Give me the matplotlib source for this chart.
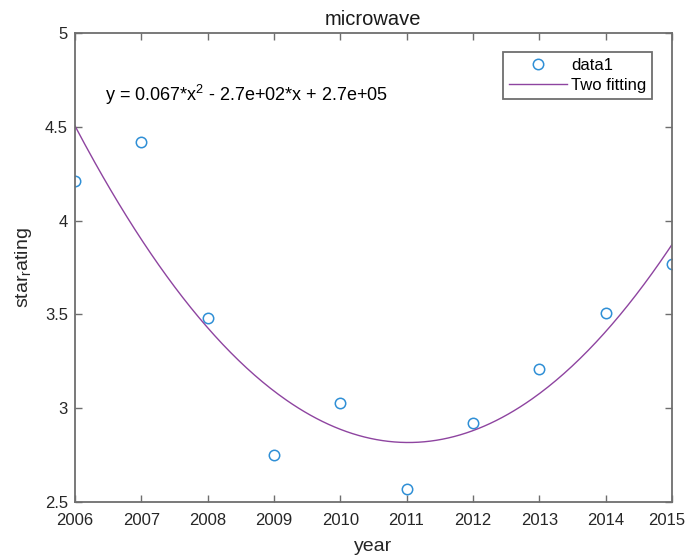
import numpy as np
import matplotlib.pyplot as plt
import matplotlib.transforms as mtransforms

plt.rcParams['font.family'] = ['Liberation Sans', 'DejaVu Sans']
plt.rcParams['mathtext.fontset'] = 'custom'
plt.rcParams['mathtext.rm'] = 'Liberation Sans'
plt.rcParams['mathtext.it'] = 'Liberation Sans'

# данные
years = [2006, 2007, 2008, 2009, 2010, 2011, 2012, 2013, 2014, 2015]
star_rating = [4.21, 4.42, 3.48, 2.75, 3.03, 2.57, 2.92, 3.21, 3.51, 3.77]
y_ticks = [2.5, 3, 3.5, 4, 4.5, 5]
y_tick_labels = ['2.5', '3', '3.5', '4', '4.5', '5']

# квадратичная аппроксимация
x = np.array(years, dtype=float)
y = np.array(star_rating)
xc = x - x.mean()
p = np.polyfit(xc, y, 2)
xs = np.linspace(x.min(), x.max(), 300)
ys = np.polyval(p, xs - x.mean())

axis_col = '#6e6e6e'

fig = plt.figure(figsize=(6.87, 5.55), dpi=100)
ax = fig.add_axes([0.109, 0.0955, 0.869, 0.845])

ax.plot(x, y, 'o', mfc='none', mec='#2f8fd6', ms=7.5, mew=1.1, label='data1')
ax.plot(xs, ys, color='#8e44a0', lw=1.0, label='Two fitting')

ax.set_xlim(2006, 2015)
ax.set_ylim(2.5, 5)
ax.set_xticks(years)
ax.set_yticks(y_ticks)
ax.set_yticklabels(y_tick_labels)
ax.tick_params(direction='in', top=True, right=True, labelsize=12,
               colors=axis_col, labelcolor='#262626', length=5, width=1.0)
ax.tick_params(axis='x', pad=8)
ax.tick_params(axis='y', pad=5)
for s in ax.spines.values():
    s.set_color(axis_col)
    s.set_linewidth(1.3)

# последняя подпись чуть левее, чтобы не обрезалась краем
last = ax.get_xticklabels()[-1]
last.set_transform(last.get_transform() +
                   mtransforms.ScaledTranslation(-5 / 100, 0, fig.dpi_scale_trans))

ax.set_title('microwave', fontsize=14.5, color='#1a1a1a', pad=6)
ax.set_xlabel('year', fontsize=14, color='#262626', labelpad=7)
ax.set_ylabel(r'star$_\mathregular{r}$ating', fontsize=14, color='#262626', labelpad=8)

ax.text(2006.45, 4.67, r'y = 0.067*x$^\mathregular{2}$ - 2.7e+02*x + 2.7e+05',
        fontsize=13, ha='left', va='center', color='black')

leg = ax.legend(loc='upper right', bbox_to_anchor=(0.9665, 0.9595), borderaxespad=0,
                fontsize=12, handlelength=3.5, fancybox=False, framealpha=1,
                edgecolor=axis_col, borderpad=0.35, labelspacing=0.3,
                handletextpad=0.2)
leg.get_frame().set_linewidth(1.3)

fig.savefig('out.png', dpi=100)
